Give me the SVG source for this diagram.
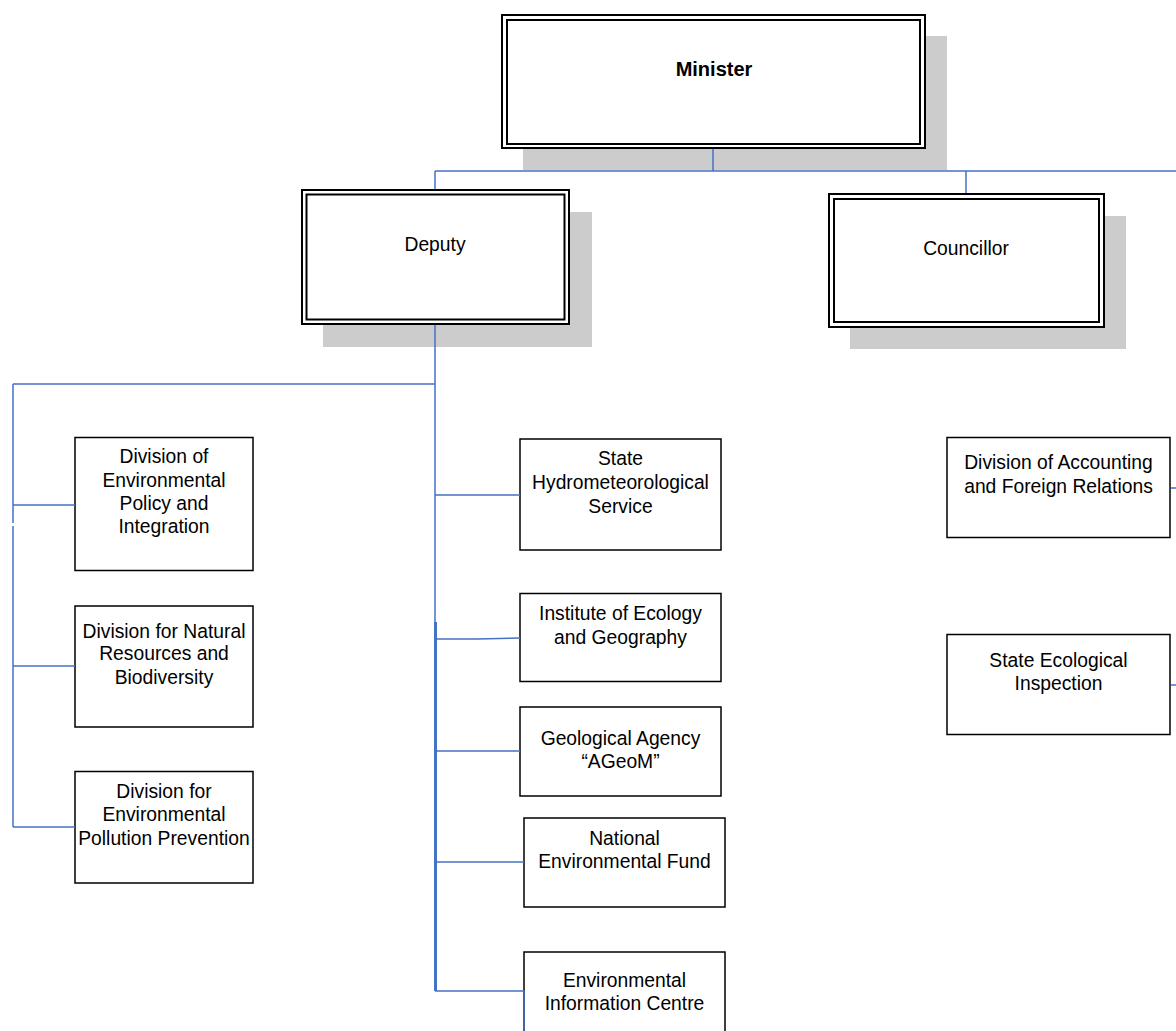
<svg xmlns="http://www.w3.org/2000/svg" width="1176" height="1031" viewBox="0 0 1176 1031">
<style>
.bg{fill:#ffffff}
.shadow{fill:#cccccc;stroke:none}
.outer{fill:#ffffff;stroke:#000000;stroke-width:2}
.inner{fill:none;stroke:#000000;stroke-width:2}
.box{fill:#ffffff;stroke:#000000;stroke-width:1.5}
.conn{fill:none;stroke:#4472c4;stroke-width:1.5}
.thick{fill:none;stroke:#4472c4;stroke-width:3}
text{font-family:"Liberation Sans",Arial,sans-serif;font-size:19.3px;fill:#000000;text-anchor:middle}
.bold{font-weight:bold;font-size:20px}
</style>
<rect class="bg" x="0" y="0" width="1176" height="1031"/>

<g id="minister">
  <rect class="shadow" x="523" y="36" width="424" height="134"/>
  <rect class="outer" x="502" y="15" width="423" height="133"/>
  <rect class="inner" x="507" y="20" width="413" height="124"/>
  <text class="bold" x="714" y="76">Minister</text>
</g>

<g id="deputy">
  <rect class="shadow" x="323" y="212" width="269" height="135"/>
  <rect class="outer" x="302" y="190" width="267" height="134"/>
  <rect class="inner" x="306.5" y="194.5" width="258" height="125"/>
  <text x="435" y="251">Deputy</text>
</g>

<g id="councillor">
  <rect class="shadow" x="850" y="216" width="276" height="133"/>
  <rect class="outer" x="829" y="194" width="275" height="133"/>
  <rect class="inner" x="834" y="199" width="265" height="123"/>
  <text x="966" y="255">Councillor</text>
</g>

<g id="div-policy">
  <rect class="box" x="75" y="437.5" width="178" height="133"/>
  <text x="164" y="463">Division of</text>
  <text x="164" y="486.5">Environmental</text>
  <text x="164" y="510">Policy and</text>
  <text x="164" y="533">Integration</text>
</g>

<g id="div-natural">
  <rect class="box" x="75" y="606" width="178" height="121"/>
  <text x="164" y="637.5">Division for Natural</text>
  <text x="164" y="660">Resources and</text>
  <text x="164" y="683.5">Biodiversity</text>
</g>

<g id="div-pollution">
  <rect class="box" x="75" y="771.5" width="178" height="111.5"/>
  <text x="164" y="797.5">Division for</text>
  <text x="164" y="821">Environmental</text>
  <text x="164" y="844.5">Pollution Prevention</text>
</g>

<g id="hydromet">
  <rect class="box" x="520" y="439" width="201" height="111"/>
  <text x="620.5" y="465">State</text>
  <text x="620.5" y="489">Hydrometeorological</text>
  <text x="620.5" y="512.5">Service</text>
</g>

<g id="ecology-institute">
  <rect class="box" x="520" y="593.5" width="201" height="88"/>
  <text x="620.5" y="620">Institute of Ecology</text>
  <text x="620.5" y="644">and Geography</text>
</g>

<g id="ageom">
  <rect class="box" x="520" y="707" width="201" height="89"/>
  <text x="620.5" y="745">Geological Agency</text>
  <text x="620.5" y="768">“AGeoM”</text>
</g>

<g id="env-fund">
  <rect class="box" x="524" y="818" width="201" height="89"/>
  <text x="624.5" y="845">National</text>
  <text x="624.5" y="868">Environmental Fund</text>
</g>

<g id="env-info">
  <rect class="box" x="524" y="952" width="201" height="90"/>
  <text x="624.5" y="987">Environmental</text>
  <text x="624.5" y="1010">Information Centre</text>
</g>

<g id="accounting">
  <rect class="box" x="947" y="437.5" width="223" height="100"/>
  <text x="1058.5" y="469">Division of Accounting</text>
  <text x="1058.5" y="492.5">and Foreign Relations</text>
</g>

<g id="inspection">
  <rect class="box" x="947" y="634.5" width="223" height="100"/>
  <text x="1058.5" y="666.5">State Ecological</text>
  <text x="1058.5" y="690">Inspection</text>
</g>

<g id="connectors">
  <path class="conn" d="M713,149 V171 M435,171 H1176 M435,171 V189 M966,171 V193"/>
  <path class="conn" d="M435,325 V991 M13,384 H435 M13,384 V523 M13,526 V827"/>
  <path class="thick" d="M435.5,622 V991"/>
  <path class="conn" d="M13,505 H75 M13,666 H75 M13,827 H75"/>
  <path class="conn" d="M435,495 H520 M435,639 H477 L520,638 M435,751 H520 M435,862 H524 M435,991 H524 V1031"/>
  <path class="conn" d="M1171,488 H1176 M1171,685 H1176"/>
</g>
</svg>
